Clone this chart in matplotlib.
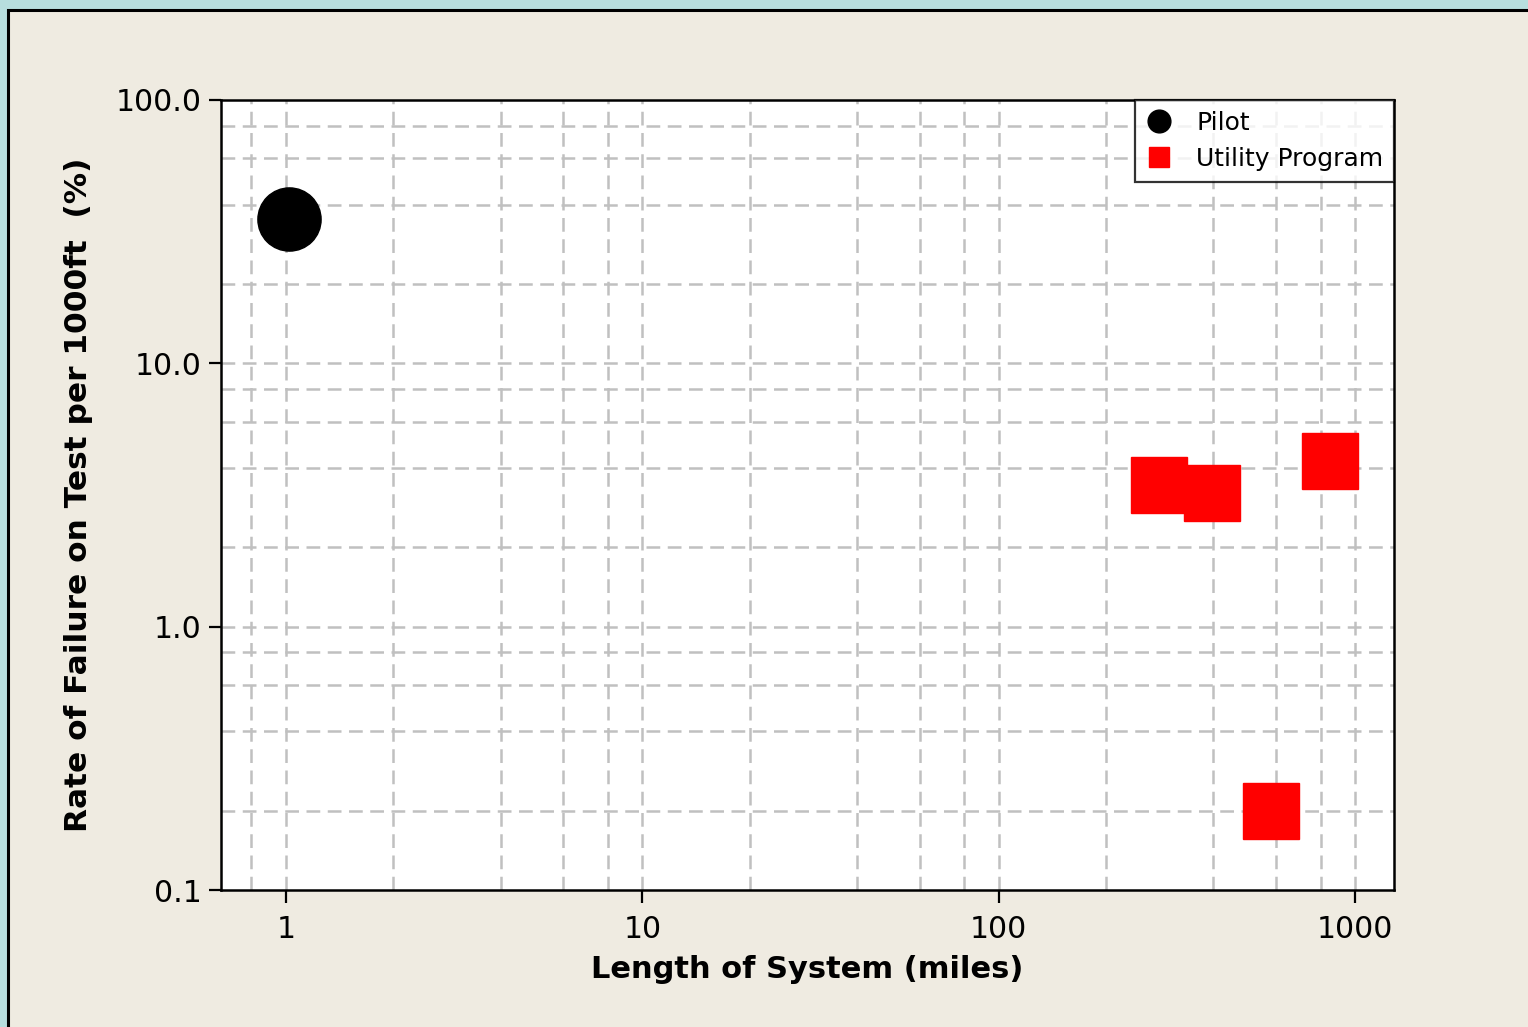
import matplotlib
matplotlib.use("Agg")
import matplotlib.pyplot as plt
from matplotlib.patches import Rectangle
from matplotlib.ticker import FixedLocator, FixedFormatter, NullLocator

plt.rcParams['font.family'] = ['DejaVu Sans']

# Data
pilot_x = [1.02]
pilot_y = [35.3]
utility_x = [281, 398, 848, 580]
utility_y = [3.45, 3.22, 4.26, 0.20]

x_ticks = [1, 10, 100, 1000]
x_ticklabels = ["1", "10", "100", "1000"]
y_ticks = [0.1, 1.0, 10.0, 100.0]
y_ticklabels = ["0.1", "1.0", "10.0", "100.0"]
x_grid = [0.8, 1, 2, 4, 6, 8, 10, 20, 40, 60, 80, 100, 200, 400, 600, 800, 1000]
y_grid = [0.2, 0.4, 0.6, 0.8, 1, 2, 4, 6, 8, 10, 20, 40, 60, 80]

W, H = 1528, 1027
fig = plt.figure(figsize=(W / 100, H / 100), dpi=100)
fig.patch.set_facecolor('#b7dede')

panel = Rectangle((8 / W, -0.05), 1.1, 1 - 10 / H + 0.05, transform=fig.transFigure,
                  facecolor='#efebe1', edgecolor='black', linewidth=2.2, zorder=-10)
fig.patches.append(panel)

ax = fig.add_axes([221 / W, 1 - 890 / H, (1394 - 221) / W, (890 - 100) / H])
ax.set_zorder(5)
ax.set_facecolor('white')
ax.set_xscale('log')
ax.set_yscale('log')
ax.set_xlim(0.657, 1286)
ax.set_ylim(0.1, 100)

for gx in x_grid:
    ax.axvline(gx, color='#c0c0c0', lw=1.8, dashes=(5.5, 3), zorder=1)
for gy in y_grid:
    ax.axhline(gy, color='#c0c0c0', lw=1.8, dashes=(5.5, 3), zorder=1)

ax.plot(pilot_x, pilot_y, linestyle='none', marker='o', markersize=45.5,
        color='black', label='Pilot', zorder=3)
ax.plot(utility_x, utility_y, linestyle='none', marker='s', markersize=40,
        color='#ff0000', label='Utility Program', zorder=3)

ax.xaxis.set_major_locator(FixedLocator(x_ticks))
ax.xaxis.set_major_formatter(FixedFormatter(x_ticklabels))
ax.xaxis.set_minor_locator(NullLocator())
ax.yaxis.set_major_locator(FixedLocator(y_ticks))
ax.yaxis.set_major_formatter(FixedFormatter(y_ticklabels))
ax.yaxis.set_minor_locator(NullLocator())

ax.tick_params(axis='both', which='major', direction='out', length=9, width=1.6,
               labelsize=21.5, colors='black')
ax.tick_params(axis='x', pad=9)
ax.tick_params(axis='y', pad=5)

for s in ax.spines.values():
    s.set_linewidth(1.8)
    s.set_color('black')
    s.set_zorder(5)

ax.set_xlabel('Length of System (miles)', fontsize=22, fontweight='bold', labelpad=8)
ax.set_ylabel('Rate of Failure on Test per 1000ft  (%)', fontsize=22.5, fontweight='bold',
              labelpad=16)

leg = ax.legend(loc='upper right', bbox_to_anchor=(1.0, 1.0), borderaxespad=0,
                fontsize=18, markerscale=0.36, frameon=True, fancybox=False,
                handletextpad=1.0, labelspacing=0.5, borderpad=0.43, handlelength=1.0)
leg.get_frame().set_edgecolor('black')
leg.get_frame().set_linewidth(1.6)
leg.set_zorder(6)

fig.savefig('out.png', dpi=100, facecolor=fig.get_facecolor())
